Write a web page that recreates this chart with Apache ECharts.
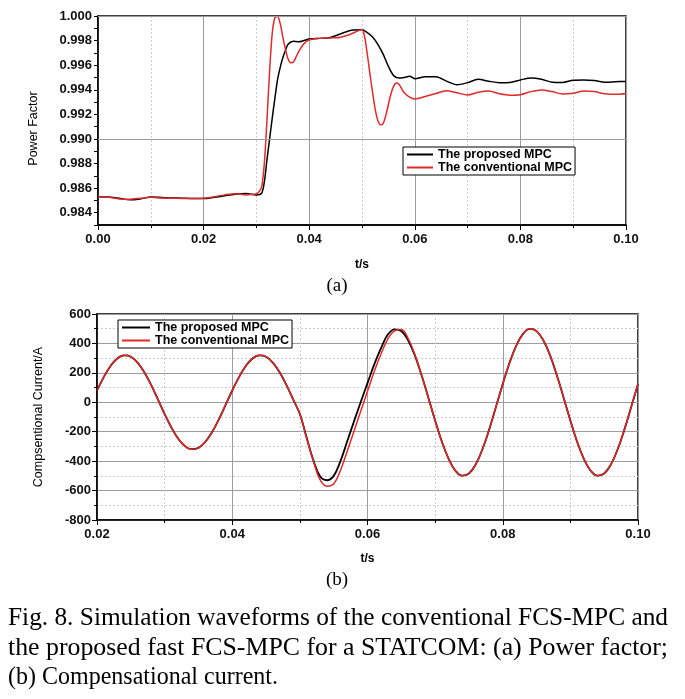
<!DOCTYPE html>
<html><head><meta charset="utf-8">
<script src="https://cdn.jsdelivr.net/npm/echarts@6/dist/echarts.min.js"></script>
<style>html,body{margin:0;padding:0;background:#fff}#c{width:685px;height:699px}</style>
</head><body><div id="c"></div>
<script>
// ---------- (a) Power factor ----------
const pfTimeProposed = [0,0.002,0.004,0.006,0.008,0.010,0.012,0.014,0.016,0.018,0.020,0.022,0.024,0.026,0.028,0.030,0.031,0.0315,0.032,0.0325,0.033,0.0335,0.034,0.0345,0.035,0.0355,0.036,0.037,0.038,0.039,0.040,0.042,0.044,0.046,0.048,0.050,0.051,0.052,0.053,0.054,0.055,0.056,0.057,0.058,0.059,0.060,0.062,0.064,0.066,0.068,0.070,0.072,0.074,0.076,0.078,0.080,0.082,0.084,0.086,0.088,0.090,0.092,0.094,0.096,0.098,0.100];
const pfProposed = [0.98530,0.98527,0.98518,0.98505,0.98512,0.98527,0.98524,0.98520,0.98518,0.98515,0.98515,0.98525,0.98538,0.98550,0.98556,0.98545,0.98560,0.98650,0.98830,0.99000,0.99170,0.99330,0.99480,0.99580,0.99660,0.99720,0.99770,0.99795,0.99790,0.99800,0.99812,0.99818,0.99825,0.99855,0.99885,0.99888,0.99865,0.99830,0.99770,0.99690,0.99590,0.99515,0.99495,0.99500,0.99510,0.99490,0.99505,0.99505,0.99470,0.99440,0.99458,0.99485,0.99470,0.99458,0.99460,0.99480,0.99495,0.99485,0.99462,0.99460,0.99478,0.99480,0.99475,0.99462,0.99465,0.99468];
const pfTimeConventional = [0,0.002,0.004,0.006,0.008,0.010,0.012,0.014,0.016,0.018,0.020,0.022,0.024,0.026,0.027,0.028,0.029,0.030,0.0305,0.031,0.0315,0.032,0.0325,0.033,0.0335,0.034,0.0345,0.035,0.0355,0.036,0.0365,0.037,0.0375,0.038,0.039,0.040,0.042,0.044,0.046,0.048,0.049,0.050,0.0505,0.051,0.0515,0.052,0.0525,0.053,0.0535,0.054,0.0545,0.055,0.0555,0.056,0.0565,0.057,0.0575,0.058,0.059,0.060,0.062,0.064,0.066,0.068,0.070,0.072,0.074,0.076,0.078,0.080,0.082,0.084,0.086,0.088,0.090,0.092,0.094,0.096,0.098,0.100];
const pfConventional = [0.98530,0.98525,0.98512,0.98510,0.98518,0.98525,0.98520,0.98518,0.98516,0.98515,0.98518,0.98530,0.98545,0.98555,0.98550,0.98545,0.98548,0.98555,0.98570,0.98610,0.98800,0.99150,0.99550,0.99860,0.99985,0.99995,0.99940,0.99830,0.99730,0.99650,0.99620,0.99625,0.99665,0.99710,0.99775,0.99805,0.99818,0.99822,0.99828,0.99855,0.99875,0.99890,0.99830,0.99690,0.99530,0.99380,0.99240,0.99150,0.99115,0.99125,0.99190,0.99280,0.99370,0.99430,0.99455,0.99445,0.99410,0.99375,0.99340,0.99325,0.99345,0.99370,0.99393,0.99375,0.99358,0.99380,0.99390,0.99368,0.99356,0.99360,0.99385,0.99398,0.99385,0.99366,0.99372,0.99390,0.99385,0.99368,0.99363,0.99370];

// ---------- (b) Compensational current ----------
const curTime = [0.020,0.021,0.022,0.023,0.024,0.025,0.026,0.027,0.028,0.029,0.030,0.031,0.032,0.033,0.034,0.035,0.036,0.037,0.038,0.039,0.040,0.041,0.042,0.043,0.044,0.045,0.046,0.047,0.048,0.049,0.050,0.051,0.052,0.053,0.054,0.055,0.056,0.057,0.058,0.059,0.060,0.061,0.062,0.063,0.064,0.065,0.066,0.067,0.068,0.069,0.070,0.071,0.072,0.073,0.074,0.075,0.076,0.077,0.078,0.079,0.080,0.081,0.082,0.083,0.084,0.085,0.086,0.087,0.088,0.089,0.090,0.091,0.092,0.093,0.094,0.095,0.096,0.097,0.098,0.099,0.100];
const curProposed = [80,171,247,298,319,310,270,204,118,20,-80,-171,-247,-298,-319,-310,-270,-204,-118,-20,80,171,247,298,319,310,270,204,118,20,-80,-240,-395,-505,-530,-500,-400,-265,-130,2,130,258,368,460,496,484,422,319,184,31,-124,-268,-385,-465,-499,-484,-422,-319,-184,-31,124,268,385,465,499,484,422,319,184,31,-124,-268,-385,-465,-499,-484,-422,-319,-184,-31,124];
const curConventional = [80,171,247,298,319,310,270,204,118,20,-80,-171,-247,-298,-319,-310,-270,-204,-118,-20,80,171,247,298,319,310,270,204,118,20,-80,-245,-400,-528,-570,-555,-463,-333,-197,-61,75,210,328,430,485,494,435,325,184,31,-124,-268,-385,-465,-499,-484,-422,-319,-184,-31,124,268,385,465,499,484,422,319,184,31,-124,-268,-385,-465,-499,-484,-422,-319,-184,-31,124];

const seriesNames = ['The proposed MPC', 'The conventional MPC'];
const pfTicks = [0.984,0.986,0.988,0.990,0.992,0.994,0.996,0.998,1.000];

const captionLines = [
  'Fig. 8. Simulation waveforms of the conventional FCS-MPC and',
  'the proposed fast FCS-MPC for a STATCOM: (a) Power factor;',
  '(b) Compensational current.'
];

const SANS = '"Liberation Sans", Arial, sans-serif';
const SERIF = '"Liberation Serif", "Times New Roman", serif';
const BLACK = '#000000';
const RED = '#e02a2a';

function zip(a, b) { return a.map((t, i) => [t, b[i]]); }

const capFontSize = 25;
const capFont = capFontSize + 'px ' + SERIF;
const ctx = document.createElement('canvas').getContext('2d');
ctx.font = capFont;
const w1 = ctx.measureText(captionLines[0]).width;
const w2 = ctx.measureText(captionLines[1]).width;
const w3 = ctx.measureText(captionLines[2]).width;
const sx1 = 660 / w1, sx2 = 660 / w2, sx3 = 270 / w3;

const axisLabelStyle = { fontFamily: SANS, fontWeight: 'bold', fontSize: 13, color: '#111' };
const legendCommon = {
  data: seriesNames, orient: 'vertical', icon: 'rect',
  itemHeight: 2, itemGap: 0, padding: [1, 3, 1, 4],
  borderColor: '#000', borderWidth: 1, backgroundColor: '#fff', selectedMode: false,
  textStyle: { fontFamily: SANS, fontWeight: 'bold', fontSize: 12.5, lineHeight: 13, color: '#000' }
};

const chart = echarts.init(document.getElementById('c'), null, { renderer: 'canvas' });
chart.setOption({
  animation: false,
  backgroundColor: '#ffffff',
  grid: [
    { left: 98, top: 16, width: 528, height: 209, show: true, borderColor: '#000', borderWidth: 1.5, backgroundColor: 'transparent' },
    { left: 97, top: 314, width: 541, height: 206, show: true, borderColor: '#000', borderWidth: 1.5, backgroundColor: 'transparent' }
  ],
  xAxis: [
    {
      type: 'value', gridIndex: 0, min: 0, max: 0.1, interval: 0.02,
      axisLine: { onZero: false, lineStyle: { color: '#000', width: 1.5 } },
      axisTick: { show: true, length: 5, lineStyle: { color: '#000' } },
      minorTick: { show: true, splitNumber: 2, length: 3, lineStyle: { color: '#000' } },
      axisLabel: Object.assign({ margin: 8, formatter: v => v.toFixed(2) }, axisLabelStyle),
      splitLine: { show: true, lineStyle: { color: '#9c9c9c', width: 1 } },
      minorSplitLine: { show: true, lineStyle: { color: '#cccccc', width: 1, type: [2, 2] } },
      name: 't/s', nameLocation: 'middle', nameGap: 34,
      nameTextStyle: { fontFamily: SANS, fontWeight: 'bold', fontSize: 12, color: '#000' }
    },
    {
      type: 'value', gridIndex: 1, min: 0.02, max: 0.1, interval: 0.02,
      axisLine: { onZero: false, lineStyle: { color: '#000', width: 1.5 } },
      axisTick: { show: true, length: 5, lineStyle: { color: '#000' } },
      minorTick: { show: true, splitNumber: 2, length: 3, lineStyle: { color: '#000' } },
      axisLabel: Object.assign({ margin: 8, formatter: v => v.toFixed(2) }, axisLabelStyle),
      splitLine: { show: true, lineStyle: { color: '#9c9c9c', width: 1 } },
      minorSplitLine: { show: true, lineStyle: { color: '#cccccc', width: 1, type: [2, 2] } },
      name: 't/s', nameLocation: 'middle', nameGap: 33,
      nameTextStyle: { fontFamily: SANS, fontWeight: 'bold', fontSize: 12, color: '#000' }
    }
  ],
  yAxis: [
    {
      type: 'value', gridIndex: 0, min: 0.983, max: 1.0, interval: 0.001,
      axisLine: { onZero: false, lineStyle: { color: '#000', width: 1.5 } },
      axisTick: { show: true, length: 4, lineStyle: { color: '#000' } },
      axisLabel: Object.assign({ margin: 6, formatter: v => { const k = Math.round(v * 1000); return k % 2 === 0 ? (k / 1000).toFixed(3) : ''; } }, axisLabelStyle),
      splitLine: { show: false },
      name: 'Power Factor', nameLocation: 'middle', nameGap: 58, nameRotate: 90,
      nameTextStyle: { fontFamily: SANS, fontSize: 12.5, color: '#000', padding: [0, 16, 0, 0] }
    },
    {
      type: 'value', gridIndex: 1, min: -800, max: 600, interval: 200,
      axisLine: { onZero: false, lineStyle: { color: '#000', width: 1.5 } },
      axisTick: { show: true, length: 5, lineStyle: { color: '#000' } },
      minorTick: { show: true, splitNumber: 2, length: 3, lineStyle: { color: '#000' } },
      axisLabel: Object.assign({ margin: 6 }, axisLabelStyle),
      splitLine: { show: true, lineStyle: { color: '#9c9c9c', width: 1 } },
      minorSplitLine: { show: true, lineStyle: { color: '#cccccc', width: 1, type: [2, 2] } },
      name: 'Compsentional Current/A', nameLocation: 'middle', nameGap: 52, nameRotate: 90,
      nameTextStyle: { fontFamily: SANS, fontSize: 12.5, color: '#000' }
    }
  ],
  legend: [
    Object.assign({ left: 403, top: 147, itemWidth: 26 }, legendCommon),
    Object.assign({ left: 118, top: 320, itemWidth: 28 }, legendCommon)
  ],
  series: [
    {
      name: seriesNames[0], type: 'line', xAxisIndex: 0, yAxisIndex: 0,
      data: zip(pfTimeProposed, pfProposed), symbol: 'none', showSymbol: false, smooth: 0.3,
      lineStyle: { color: BLACK, width: 1.5 }, itemStyle: { color: BLACK },
      markLine: {
        silent: true, symbol: 'none', label: { show: false }, animation: false,
        lineStyle: { color: '#9c9c9c', width: 1, type: 'solid' },
        data: pfTicks.map(v => ({ yAxis: v }))
      }, z: 2
    },
    {
      name: seriesNames[1], type: 'line', xAxisIndex: 0, yAxisIndex: 0,
      data: zip(pfTimeConventional, pfConventional), symbol: 'none', showSymbol: false, smooth: 0.3,
      lineStyle: { color: RED, width: 1.5 }, itemStyle: { color: RED }, z: 3
    },
    {
      name: seriesNames[0], type: 'line', xAxisIndex: 1, yAxisIndex: 1,
      data: zip(curTime, curProposed), symbol: 'none', showSymbol: false, smooth: 0.4,
      lineStyle: { color: BLACK, width: 1.8 }, itemStyle: { color: BLACK }, z: 2
    },
    {
      name: seriesNames[1], type: 'line', xAxisIndex: 1, yAxisIndex: 1,
      data: zip(curTime, curConventional), symbol: 'none', showSymbol: false, smooth: 0.4,
      lineStyle: { color: RED, width: 1.5 }, itemStyle: { color: RED }, z: 3
    }
  ],
  graphic: [
    { type: 'text', x: 337, y: 286, style: { text: '(a)', font: '19px ' + SERIF, fill: '#000', textAlign: 'center', textVerticalAlign: 'middle' } },
    { type: 'text', x: 337, y: 580, style: { text: '(b)', font: '19px ' + SERIF, fill: '#000', textAlign: 'center', textVerticalAlign: 'middle' } },
    { type: 'text', x: 8, y: 618, scaleX: sx1, style: { text: captionLines[0], font: capFont, fill: '#000', textAlign: 'left', textVerticalAlign: 'middle' } },
    { type: 'text', x: 8, y: 648, scaleX: sx2, style: { text: captionLines[1], font: capFont, fill: '#000', textAlign: 'left', textVerticalAlign: 'middle' } },
    { type: 'text', x: 8, y: 677, scaleX: sx3, style: { text: captionLines[2], font: capFont, fill: '#000', textAlign: 'left', textVerticalAlign: 'middle' } }
  ]
});
</script></body></html>
